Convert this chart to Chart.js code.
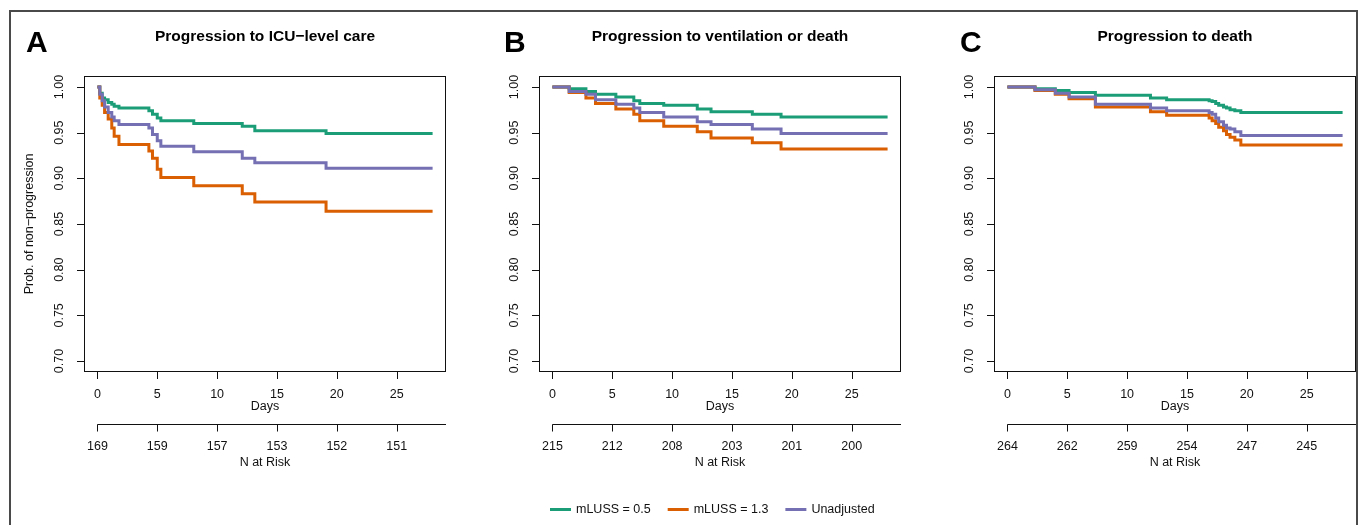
<!DOCTYPE html>
<html>
<head>
<meta charset="utf-8">
<script src="https://cdn.jsdelivr.net/npm/chart.js@4"></script>
<style>
  html, body { margin: 0; padding: 0; background: #fff; overflow: hidden; }
  #wrap { position: relative; width: 1363px; height: 525px; }
  canvas { position: absolute; top: 0; }
  #frame {
    position: absolute; left: 9px; top: 10px; width: 1349px; height: 540px;
    border: 2px solid #4a4a4a; box-sizing: border-box; pointer-events: none;
  }
</style>
</head>
<body>
<div id="wrap">
  <canvas id="js--chart--a" width="455" height="525" style="left:0px"></canvas>
  <canvas id="js--chart--b" width="455" height="525" style="left:455px"></canvas>
  <canvas id="js--chart--c" width="453" height="525" style="left:910px"></canvas>
  <div id="frame"></div>
</div>
<script>
// series names + colours
const seriesNames = ["mLUSS = 0.5", "mLUSS = 1.3", "Unadjusted"];
const seriesColors = ["#1b9e77", "#d95f02", "#7570b3"];

// axis ticks
const dayTicks = [0, 5, 10, 15, 20, 25];
const probTicks = [0.70, 0.75, 0.80, 0.85, 0.90, 0.95, 1.00];

// A: progression to ICU-level care
const icuDays = [0, 0.2, 0.4, 0.6, 0.9, 1.2, 1.4, 1.8, 4.3, 4.6, 5.0, 5.3, 8.05, 12.1, 13.15, 19.1, 28];
const icuLow = [1, 0.993, 0.988, 0.986, 0.983, 0.981, 0.979, 0.977, 0.974, 0.970, 0.966, 0.963, 0.960, 0.957, 0.952, 0.949, 0.949];
const icuHigh = [1, 0.988, 0.980, 0.972, 0.965, 0.955, 0.946, 0.937, 0.930, 0.922, 0.910, 0.901, 0.892, 0.883, 0.874, 0.864, 0.864];
const icuUnadj = [1, 0.992, 0.985, 0.978, 0.972, 0.967, 0.963, 0.959, 0.955, 0.948, 0.941, 0.935, 0.929, 0.922, 0.917, 0.911, 0.911];
const icuRisk = [169, 159, 157, 153, 152, 151];

// B: progression to ventilation or death
const ventDays = [0, 1.4, 2.8, 3.6, 5.3, 6.8, 7.3, 9.3, 12.1, 13.25, 16.7, 19.1, 28];
const ventLow = [1, 0.998, 0.995, 0.992, 0.989, 0.985, 0.982, 0.980, 0.976, 0.973, 0.970, 0.967, 0.967];
const ventHigh = [1, 0.994, 0.988, 0.982, 0.976, 0.970, 0.963, 0.957, 0.951, 0.944, 0.939, 0.932, 0.932];
const ventUnadj = [1, 0.995, 0.992, 0.986, 0.981, 0.977, 0.972, 0.967, 0.962, 0.959, 0.954, 0.949, 0.949];
const ventRisk = [215, 212, 208, 203, 201, 200];

// C: progression to death
const deathDays = [0, 2.3, 4.0, 5.15, 7.35, 11.95, 13.3, 16.85, 17.1, 17.4, 17.65, 18.05, 18.3, 18.6, 19.0, 19.5, 28];
const deathLow = [1, 0.998, 0.996, 0.994, 0.991, 0.988, 0.986, 0.985, 0.984, 0.982, 0.980, 0.978, 0.977, 0.975, 0.974, 0.972, 0.972];
const deathHigh = [1, 0.996, 0.992, 0.987, 0.978, 0.973, 0.969, 0.966, 0.963, 0.960, 0.956, 0.952, 0.948, 0.945, 0.942, 0.9365, 0.9365];
const deathUnadj = [1, 0.997, 0.993, 0.989, 0.981, 0.977, 0.974, 0.972, 0.970, 0.966, 0.962, 0.958, 0.955, 0.954, 0.951, 0.947, 0.947];
const deathRisk = [264, 262, 259, 254, 247, 245];

const FONT = '"Liberation Sans", Arial, Helvetica, sans-serif';

function pts(days, vals) {
  return days.map(function (d, i) {
    return { x: d, y: vals[i] };
  });
}

// R-like axes, box, titles and the risk axis
const rStyle = {
  id: "rStyle",
  afterDraw(chart, args, opts) {
    const ctx = chart.ctx;
    const a = chart.chartArea;
    const xs = chart.scales.x;
    const ys = chart.scales.y;
    const mid = (a.left + a.right) / 2;
    ctx.save();
    ctx.strokeStyle = "#111";
    ctx.fillStyle = "#111";
    ctx.lineWidth = 1;

    // box
    ctx.strokeRect(a.left + 0.5, a.top + 0.5, a.right - a.left - 1, a.bottom - a.top - 1);

    // x axis ticks
    ctx.font = "12.5px " + FONT;
    ctx.textAlign = "center";
    ctx.textBaseline = "middle";
    ctx.beginPath();
    dayTicks.forEach(function (t) {
      const px = Math.round(xs.getPixelForValue(t)) + 0.5;
      ctx.moveTo(px, a.bottom);
      ctx.lineTo(px, a.bottom + 7);
    });
    ctx.stroke();
    dayTicks.forEach(function (t) {
      ctx.fillText(String(t), xs.getPixelForValue(t), a.bottom + 23);
    });
    ctx.fillText("Days", mid, a.bottom + 35);

    // risk axis
    const ry = a.bottom + 52.5;
    ctx.beginPath();
    ctx.moveTo(xs.getPixelForValue(0), ry);
    ctx.lineTo(a.right, ry);
    dayTicks.forEach(function (t) {
      const px = Math.round(xs.getPixelForValue(t)) + 0.5;
      ctx.moveTo(px, ry);
      ctx.lineTo(px, ry + 7);
    });
    ctx.stroke();
    dayTicks.forEach(function (t, i) {
      ctx.fillText(String(opts.risk[i]), xs.getPixelForValue(t), a.bottom + 75);
    });
    ctx.fillText("N at Risk", mid, a.bottom + 91);

    // y axis ticks (rotated labels)
    ctx.beginPath();
    probTicks.forEach(function (v) {
      const py = Math.round(ys.getPixelForValue(v)) + 0.5;
      ctx.moveTo(a.left - 7, py);
      ctx.lineTo(a.left, py);
    });
    ctx.stroke();
    probTicks.forEach(function (v) {
      ctx.save();
      ctx.translate(a.left - 24, ys.getPixelForValue(v));
      ctx.rotate(-Math.PI / 2);
      ctx.fillText(v.toFixed(2), 0, 0);
      ctx.restore();
    });
    if (opts.yTitle) {
      ctx.save();
      ctx.translate(a.left - 54, (a.top + a.bottom) / 2);
      ctx.rotate(-Math.PI / 2);
      ctx.fillText(opts.yTitle, 0, 0);
      ctx.restore();
    }

    // panel title and letter
    ctx.fillStyle = "#000";
    ctx.font = "bold 15.5px " + FONT;
    ctx.fillText(opts.title, mid, 37);
    ctx.textAlign = "left";
    ctx.textBaseline = "alphabetic";
    ctx.font = "bold 30px " + FONT;
    ctx.fillText(opts.letter, opts.letterX, 52);

    // shared legend (only on middle panel)
    if (opts.legend) {
      let lx = opts.legendX;
      const ly = 509.5;
      ctx.font = "12.5px " + FONT;
      ctx.textBaseline = "middle";
      chart.data.datasets.forEach(function (ds) {
        ctx.strokeStyle = ds.borderColor;
        ctx.lineWidth = 3;
        ctx.beginPath();
        ctx.moveTo(lx, ly);
        ctx.lineTo(lx + 21, ly);
        ctx.stroke();
        ctx.fillStyle = "#111";
        ctx.fillText(ds.label, lx + 26, ly);
        lx = lx + 26 + ctx.measureText(ds.label).width + 17;
      });
    }
    ctx.restore();
  }
};

function makePanel(id, days, low, high, unadj, settings) {
  const vals = [low, high, unadj];
  const config = {
    type: "line",
    data: {
      datasets: vals.map(function (v, i) {
        return {
          label: seriesNames[i],
          data: pts(days, v),
          borderColor: seriesColors[i],
          borderWidth: 3,
          pointRadius: 0,
          stepped: "before",
          fill: false,
          order: 3 - i,
        };
      }),
    },
    options: {
      responsive: false,
      animation: false,
      layout: { padding: { left: 84, right: settings.right, top: 76, bottom: 153 } },
      scales: {
        x: { type: "linear", min: -1.12, max: 29.12, display: false },
        y: { type: "linear", min: 0.688, max: 1.012, display: false },
      },
      plugins: {
        legend: { display: false },
        tooltip: { enabled: false },
        rStyle: settings,
      },
    },
    plugins: [rStyle],
  };
  return new Chart(document.getElementById(id), config);
}

makePanel("js--chart--a", icuDays, icuLow, icuHigh, icuUnadj, {
  right: 9, letter: "A", letterX: 26, title: "Progression to ICU\u2212level care",
  risk: icuRisk, yTitle: "Prob. of non\u2212progression",
});
makePanel("js--chart--b", ventDays, ventLow, ventHigh, ventUnadj, {
  right: 9, letter: "B", letterX: 49, title: "Progression to ventilation or death",
  risk: ventRisk, legend: true, legendX: 95,
});
makePanel("js--chart--c", deathDays, deathLow, deathHigh, deathUnadj, {
  right: 7, letter: "C", letterX: 50, title: "Progression to death",
  risk: deathRisk,
});
</script>
</body>
</html>
